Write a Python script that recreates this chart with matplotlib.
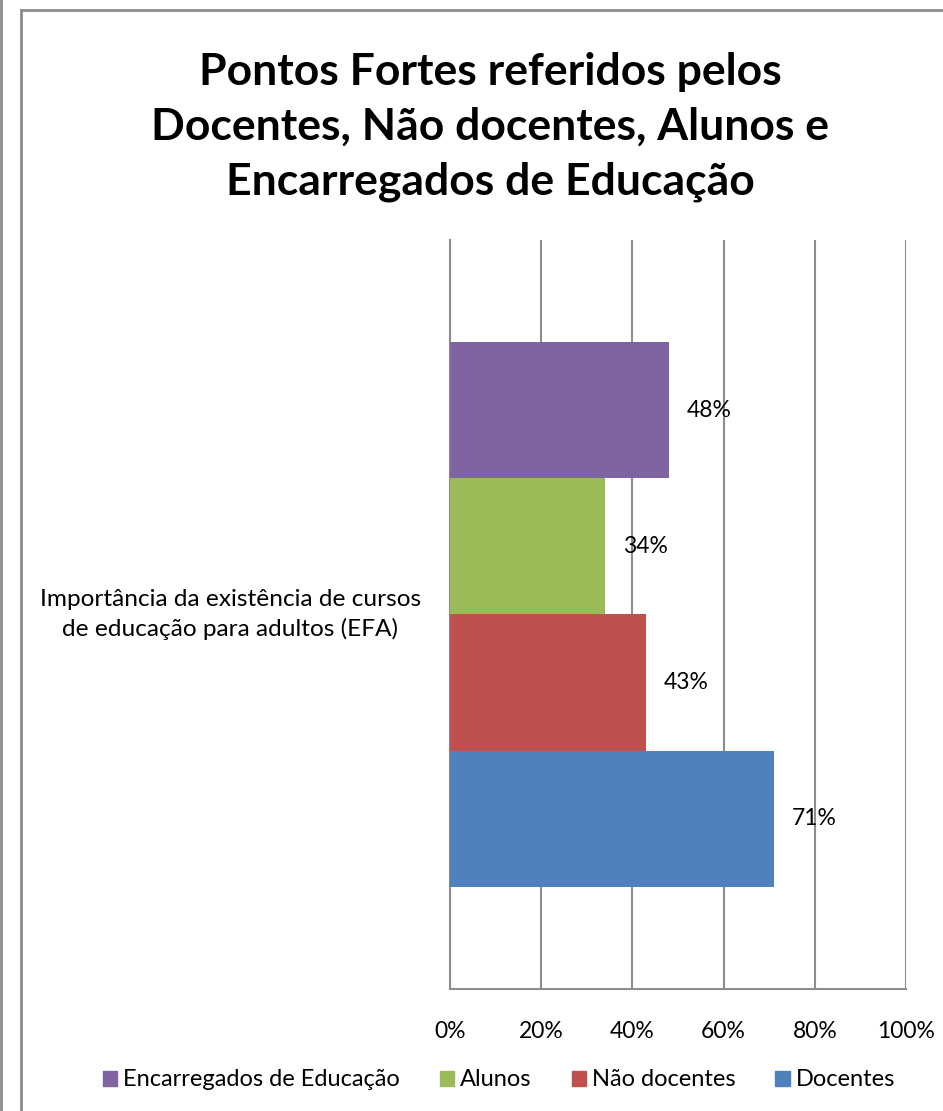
import matplotlib.pyplot as plt
from matplotlib.patches import Patch
from matplotlib.lines import Line2D
import matplotlib.transforms as mtransforms

plt.rcParams['font.family'] = ['Lato', 'DejaVu Sans']

# data
category = 'Importância da existência de cursos\nde educação para adultos (EFA)'
series = ['Docentes', 'Não docentes', 'Alunos', 'Encarregados de Educação']
values = [71, 43, 34, 48]
colors = ['#4f81bd', '#c0504d', '#9bbb59', '#8064a2']
ticks = [0, 20, 40, 60, 80, 100]
tick_labels = ['0%', '20%', '40%', '60%', '80%', '100%']
title = 'Pontos Fortes referidos pelos\nDocentes, Não docentes, Alunos e\nEncarregados de Educação'

fig = plt.figure(figsize=(9.43, 11.11), dpi=100)
ax = fig.add_axes([0.4772, 0.1098, 0.4836, 0.6742])

pos = list(range(len(series)))
ax.barh(pos, values, height=1.0, color=colors, zorder=3)
for p, v in zip(pos, values):
    ax.annotate(f'{v}%', (v, p), xytext=(13, 0), textcoords='offset points',
                va='center', ha='left', fontsize=16.5, color='black', zorder=4)

ax.set_xlim(0, 100)
ax.set_ylim(-1.25, 4.25)
ax.set_xticks(ticks)
ax.set_xticklabels(tick_labels, fontsize=16.5)
ax.set_yticks([])
ax.tick_params(axis='x', length=0, pad=23)
ax.grid(axis='x', color='#8c8c8c', linewidth=1.5, zorder=1)
for s in ['top', 'right']:
    ax.spines[s].set_visible(False)
for s in ['left', 'bottom']:
    ax.spines[s].set_color('#8c8c8c')
    ax.spines[s].set_linewidth(1.5)

# category label (centered left of the plot)
trans = mtransforms.blended_transform_factory(fig.transFigure, ax.transData)
ax.text(0.244, 1.5, category, transform=trans, ha='center', va='center',
        fontsize=17.6, multialignment='center', linespacing=1.4)

fig.text(0.52, 0.8857, title, ha='center', va='center', fontsize=32,
         fontweight='bold', linespacing=1.45)

handles = [Patch(color=c, label=s) for s, c in zip(series[::-1], colors[::-1])]
fig.legend(handles=handles, loc='center', bbox_to_anchor=(0.529, 0.028), ncol=4,
           frameon=False, fontsize=17, handlelength=0.6, handleheight=0.6,
           handletextpad=0.25, columnspacing=1.7)

# chart frame
fig.add_artist(Line2D([0.0008, 0.0008], [0, 1], color='#8c8c8c', linewidth=2))
fig.add_artist(Line2D([0.0218, 0.0218], [0, 0.991], color='#8c8c8c', linewidth=2))
fig.add_artist(Line2D([0.0218, 1], [0.991, 0.991], color='#8c8c8c', linewidth=2))

fig.savefig('out.png', dpi=100)
